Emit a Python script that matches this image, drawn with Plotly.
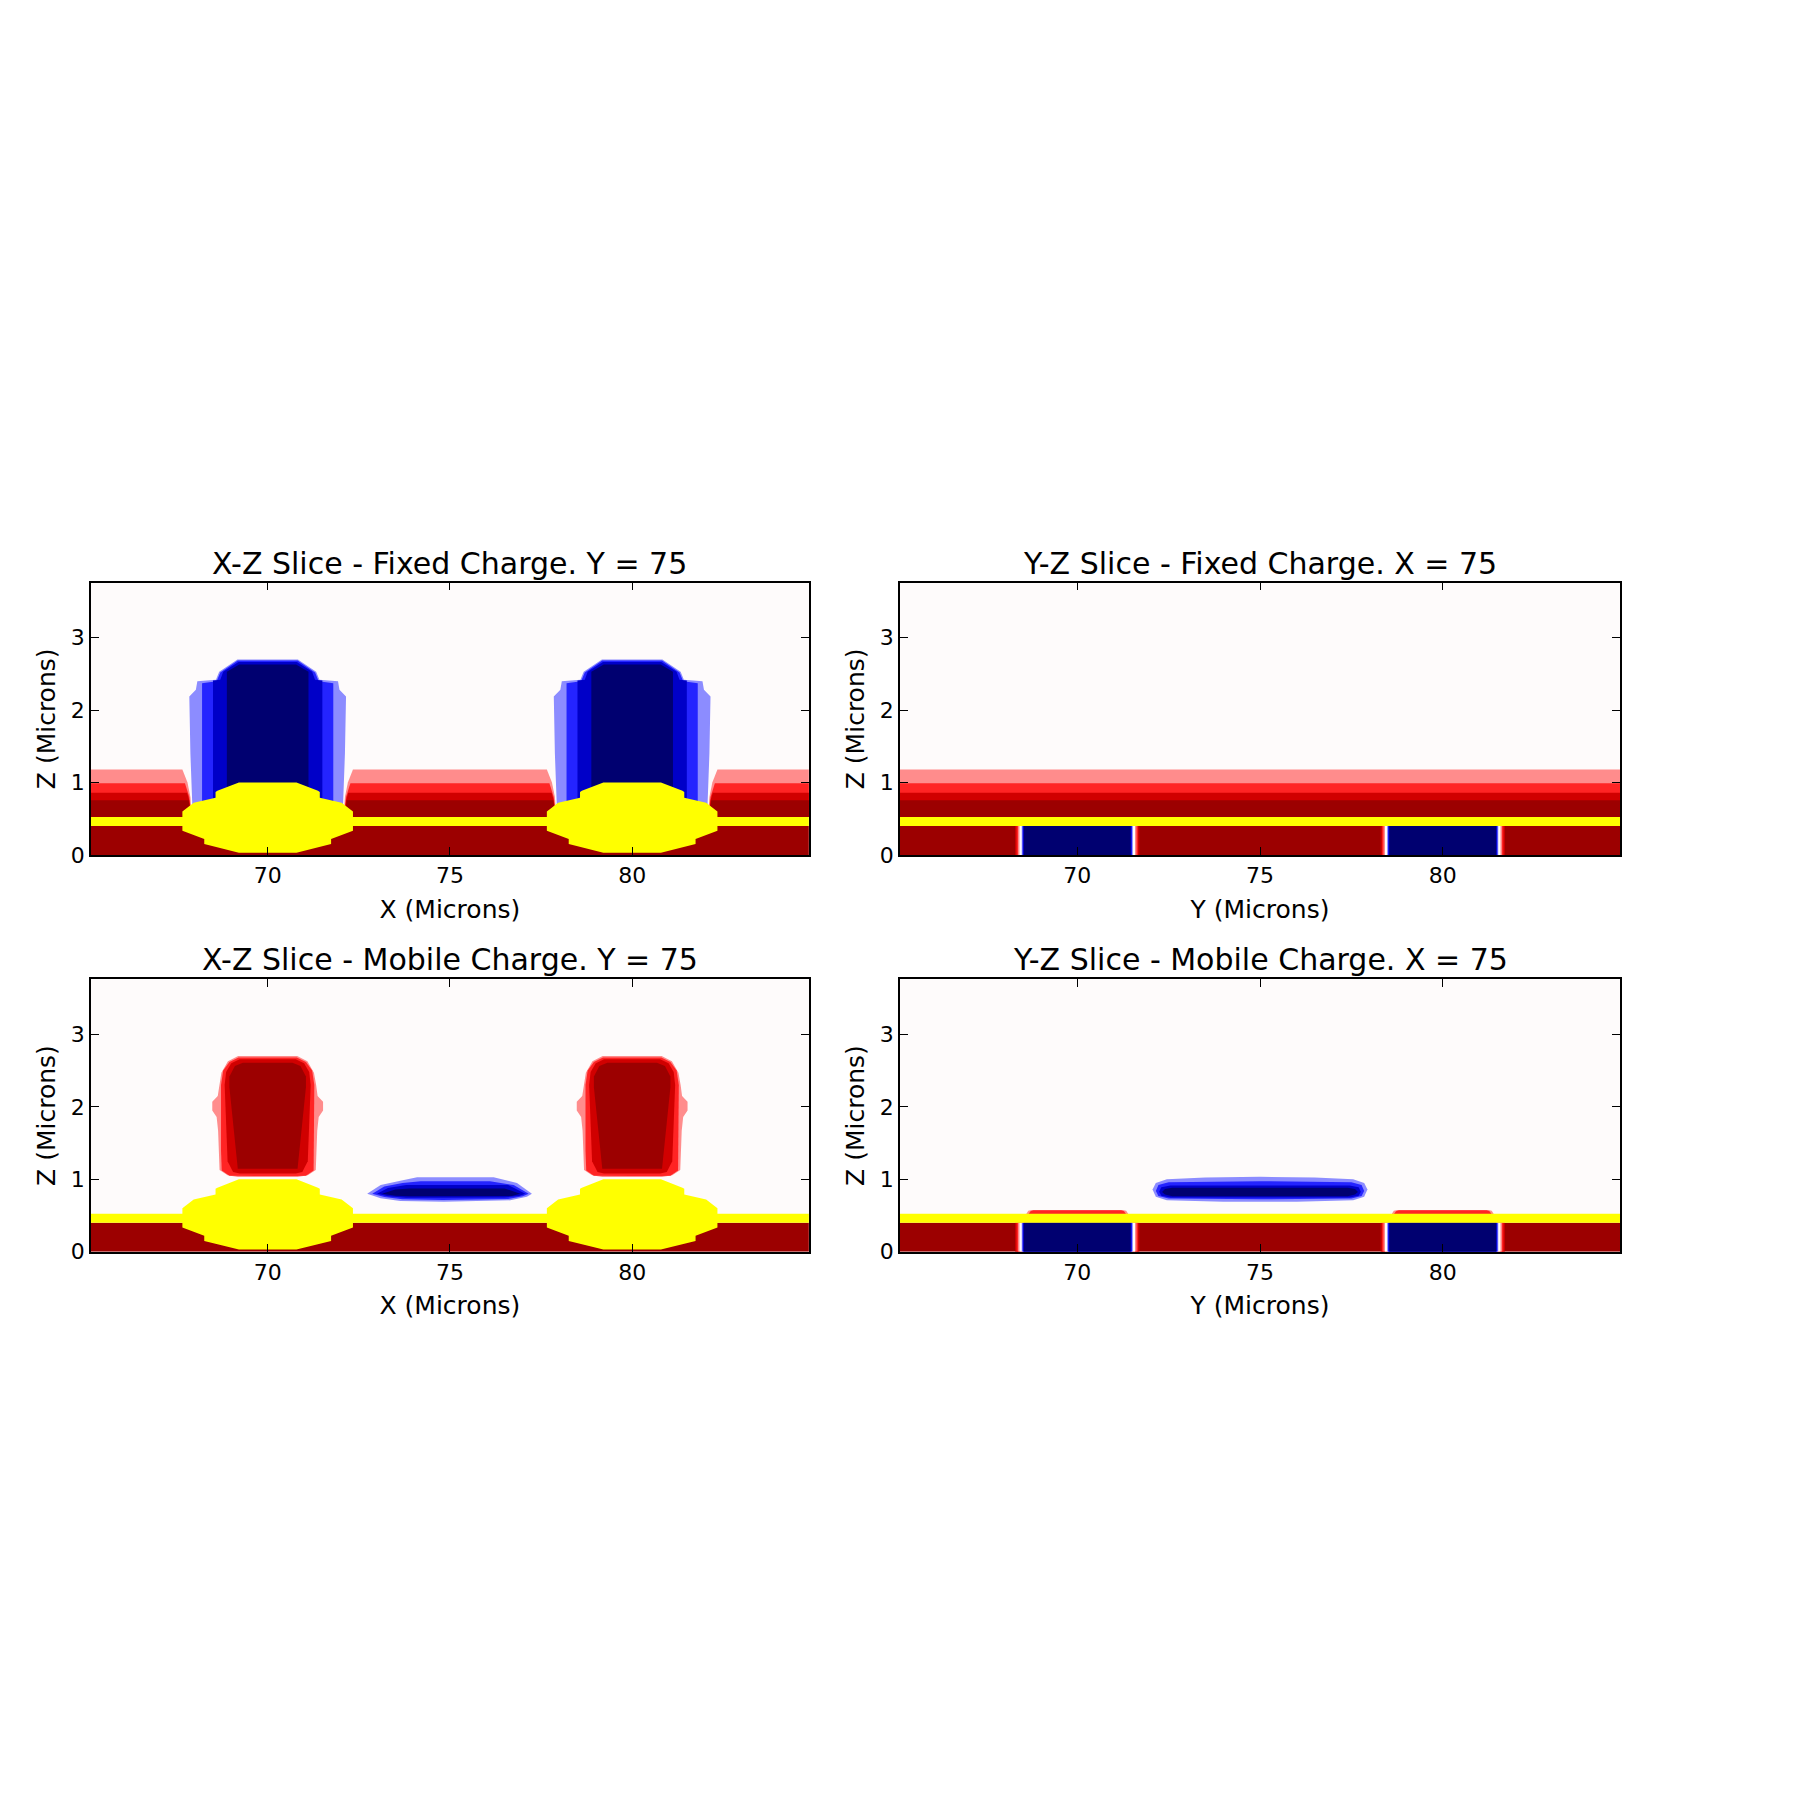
import plotly.graph_objects as go

# ---------------- data ----------------
X_RANGE = [65.15, 84.85]
Z_RANGE = [0.0, 3.76]
X_TICKS = [70, 75, 80]
Z_TICKS = [0, 1, 2, 3]

TITLES = ["X-Z Slice - Fixed Charge. Y = 75", "Y-Z Slice - Fixed Charge. X = 75",
          "X-Z Slice - Mobile Charge. Y = 75", "Y-Z Slice - Mobile Charge. X = 75"]
X_LABELS = ["X (Microns)", "Y (Microns)", "X (Microns)", "Y (Microns)"]
Z_LABEL = "Z (Microns)"

PILLAR_CENTERS = [70.0, 80.0]
SUBSTRATE_TOP = 0.40
OXIDE_TOP = 0.525

# colours (contour levels)
NAVY, MIDBLUE, BLUE, LIGHTBLUE = "#000070", "#0000c8", "#2424ff", "#8c8cff"
WHITE = "#fefbfb"
LIGHTRED, RED, MIDRED, DARKRED = "#ff8c8c", "#ff2424", "#d00000", "#9c0000"
YELLOW = "#ffff00"

# fixed charge band above oxide (level tops)
BAND_COLORS = [LIGHTRED, RED, MIDRED, DARKRED]
BAND_TOPS = [1.18, 0.99, 0.86, 0.755]
# half widths of gap around pillars for each band level (z profile, half width)
BAND_GAP_Z = [[0.525, 0.80, 1.00, 1.18], [0.525, 0.80, 0.99], [0.525, 0.75, 0.86], [0.525, 0.68, 0.755]]
BAND_GAP_HW = [[2.08, 2.12, 2.20, 2.34], [2.09, 2.15, 2.27], [2.10, 2.15, 2.21], [2.11, 2.14, 2.17]]

# fixed charge pillars (right half: dx, z), outer level first
PILLAR_COLORS = [LIGHTBLUE, BLUE, MIDBLUE, NAVY]
PILLAR_DX = [[0, 0.83, 1.33, 1.42, 1.93, 1.97, 2.15, 2.12, 2.06, 0],
             [0, 0.82, 1.30, 1.40, 1.80, 1.80, 0],
             [0, 0.80, 1.22, 1.30, 1.50, 1.50, 0],
             [0, 0.78, 1.12, 1.12, 0]]
PILLAR_Z = [[2.70, 2.70, 2.53, 2.42, 2.40, 2.28, 2.19, 1.40, 0.58, 0.58],
            [2.685, 2.685, 2.52, 2.40, 2.37, 0.58, 0.58],
            [2.665, 2.665, 2.53, 2.42, 2.41, 0.58, 0.58],
            [2.63, 2.63, 2.53, 0.58, 0.58]]

# oxide (yellow) octagons, right half
OXIDE_DX = [0, 0.79, 1.38, 1.43, 1.43, 2.03, 2.34, 2.34, 1.74, 1.74, 0.79, 0]
OXIDE_Z = [1.0, 1.0, 0.885, 0.87, 0.79, 0.72, 0.60, 0.335, 0.22, 0.15, 0.03, 0.03]

# mobile charge blobs above pillars (right half)
BLOB_COLORS = [LIGHTRED, RED, MIDRED, DARKRED]
BLOB_DX = [[0, 0.81, 1.09, 1.27, 1.33, 1.37, 1.52, 1.52, 1.40, 1.36, 1.32, 1.10, 0.82, 0],
           [0, 0.80, 1.05, 1.22, 1.28, 1.28, 1.26, 1.05, 0.80, 0],
           [0, 0.77, 1.00, 1.14, 1.18, 1.10, 0.95, 0.77, 0],
           [0, 0.68, 0.90, 1.05, 1.05, 0.82, 0]]
BLOB_Z = [[2.70, 2.70, 2.63, 2.47, 2.30, 2.15, 2.07, 1.95, 1.86, 1.67, 1.13, 1.056, 1.033, 1.033],
          [2.68, 2.68, 2.62, 2.50, 2.30, 1.40, 1.12, 1.05, 1.045, 1.045],
          [2.655, 2.655, 2.60, 2.48, 2.30, 1.25, 1.10, 1.08, 1.08],
          [2.61, 2.61, 2.565, 2.42, 2.27, 1.147, 1.147]]

# mobile electron cloud, X-Z slice
XZ_CLOUD_COLORS = [LIGHTBLUE, BLUE, MIDBLUE, NAVY]
XZ_CLOUD_X = [[72.73, 73.1, 73.64, 74.1, 76.2, 76.84, 77.25, 77.11, 76.66, 74.83, 73.64, 73.1],
              [72.87, 73.2, 73.7, 74.2, 76.1, 76.75, 77.16, 77.0, 76.6, 74.8, 73.7, 73.2],
              [73.0, 73.3, 73.8, 76.6, 77.07, 76.9, 76.5, 73.8, 73.3],
              [73.14, 73.5, 73.9, 76.5, 76.93, 76.7, 73.9, 73.5]]
XZ_CLOUD_Z = [[0.80, 0.92, 0.98, 1.03, 1.03, 0.95, 0.80, 0.76, 0.71, 0.69, 0.70, 0.74],
              [0.80, 0.90, 0.95, 0.975, 0.975, 0.92, 0.80, 0.765, 0.73, 0.715, 0.725, 0.755],
              [0.80, 0.88, 0.92, 0.92, 0.80, 0.77, 0.75, 0.745, 0.765],
              [0.80, 0.86, 0.875, 0.875, 0.80, 0.77, 0.765, 0.775]]

# mobile electron cloud, Y-Z slice
YZ_CLOUD_Y = [[72.06, 72.15, 72.45, 73.5, 75.0, 76.5, 77.55, 77.85, 77.94, 77.85, 77.55, 76.0, 74.0, 72.45, 72.15],
              [72.15, 72.22, 72.5, 75.0, 77.5, 77.78, 77.85, 77.78, 77.5, 75.0, 72.5, 72.22],
              [72.24, 72.3, 72.55, 77.45, 77.7, 77.76, 77.7, 77.45, 72.55, 72.3],
              [72.32, 72.4, 72.6, 77.4, 77.6, 77.68, 77.6, 77.4, 72.6, 72.4]]
YZ_CLOUD_Z = [[0.86, 0.95, 1.0, 1.025, 1.035, 1.025, 1.0, 0.95, 0.86, 0.76, 0.71, 0.69, 0.69, 0.71, 0.76],
              [0.84, 0.92, 0.96, 0.975, 0.96, 0.92, 0.84, 0.77, 0.735, 0.725, 0.735, 0.77],
              [0.83, 0.89, 0.915, 0.915, 0.89, 0.83, 0.775, 0.75, 0.75, 0.775],
              [0.825, 0.865, 0.885, 0.885, 0.865, 0.825, 0.79, 0.765, 0.765, 0.79]]

# channel stops in substrate (Y-Z): stripe half widths, outermost first
STRIPE_COLORS = [MIDRED, RED, LIGHTRED, WHITE, LIGHTBLUE, BLUE, MIDBLUE, NAVY]
STRIPE_HW = [1.70, 1.66, 1.62, 1.58, 1.52, 1.50, 1.48, 1.46]

# small hole bumps above oxide (Y-Z mobile), right half
BUMP_COLORS = [LIGHTRED, RED]
BUMP_DX = [[0, 1.25, 1.34, 1.42, 0], [0, 1.20, 1.28, 1.36, 0]]
BUMP_Z = [[0.578, 0.578, 0.565, 0.50, 0.50], [0.572, 0.572, 0.56, 0.50, 0.50]]

# ---------------- figure ----------------
fig = go.Figure()
FONT = "DejaVu Sans"
X_DOMAINS = [[0.0505, 0.4494], [0.5, 0.9], [0.0505, 0.4494], [0.5, 0.9]]
Y_DOMAINS = [[0.5216, 0.6739], [0.2995, 0.4520], [0.2995, 0.4520]]
Y_DOMAINS = [Y_DOMAINS[0], Y_DOMAINS[0], Y_DOMAINS[1], Y_DOMAINS[2]]


def poly(xs, zs, color, k):
    suffix = "" if k == 0 else str(k + 1)
    fig.add_trace(go.Scatter(x=list(xs) + [xs[0]], y=list(zs) + [zs[0]], mode="lines",
                             fill="toself", fillcolor=color, line=dict(width=0, color=color),
                             hoverinfo="skip", showlegend=False,
                             xaxis="x" + suffix, yaxis="y" + suffix))


def rect(x0, x1, z0, z1, color, k):
    poly([x0, x1, x1, x0], [z0, z0, z1, z1], color, k)


def mirrored(center, hdx, hz):
    xs = [center - d for d in reversed(hdx)] + [center + d for d in hdx]
    zs = list(reversed(hz)) + list(hz)
    return xs, zs


def band_with_gaps(zprof, hwprof, color, k):
    bounds = [X_RANGE[0]] + PILLAR_CENTERS + [X_RANGE[1]]
    zb, zt = zprof[0], zprof[-1]
    for i in range(len(bounds) - 1):
        a, b = bounds[i], bounds[i + 1]
        xs, zs = [], []
        if i == 0:
            xs += [a, a]; zs += [zb, zt]
        else:
            xs += [a + h for h in hwprof]; zs += list(zprof)
        if i == len(bounds) - 2:
            xs += [b, b]; zs += [zt, zb]
        else:
            xs += [b - h for h in reversed(hwprof)]; zs += list(reversed(zprof))
        poly(xs, zs, color, k)


def substrate_and_oxide(k, octagons, stripes):
    rect(X_RANGE[0], X_RANGE[1], 0, SUBSTRATE_TOP, DARKRED, k)
    if stripes:
        for c in PILLAR_CENTERS:
            for col, hw in zip(STRIPE_COLORS, STRIPE_HW):
                rect(c - hw, c + hw, 0, SUBSTRATE_TOP, col, k)
    rect(X_RANGE[0], X_RANGE[1], SUBSTRATE_TOP, OXIDE_TOP, YELLOW, k)
    if octagons:
        for c in PILLAR_CENTERS:
            xs, zs = mirrored(c, OXIDE_DX, OXIDE_Z)
            poly(xs, zs, YELLOW, k)


# panel 1: X-Z fixed
for col, zp, hp in zip(BAND_COLORS, BAND_GAP_Z, BAND_GAP_HW):
    band_with_gaps(zp, hp, col, 0)
for c in PILLAR_CENTERS:
    for col, dx, z in zip(PILLAR_COLORS, PILLAR_DX, PILLAR_Z):
        xs, zs = mirrored(c, dx, z)
        poly(xs, zs, col, 0)
substrate_and_oxide(0, True, False)

# panel 2: Y-Z fixed
for col, top in zip(BAND_COLORS, BAND_TOPS):
    rect(X_RANGE[0], X_RANGE[1], OXIDE_TOP, top, col, 1)
substrate_and_oxide(1, False, True)

# panel 3: X-Z mobile
for c in PILLAR_CENTERS:
    for col, dx, z in zip(BLOB_COLORS, BLOB_DX, BLOB_Z):
        xs, zs = mirrored(c, dx, z)
        poly(xs, zs, col, 2)
for col, xs, zs in zip(XZ_CLOUD_COLORS, XZ_CLOUD_X, XZ_CLOUD_Z):
    poly(xs, zs, col, 2)
substrate_and_oxide(2, True, False)

# panel 4: Y-Z mobile
for c in PILLAR_CENTERS:
    for col, dx, z in zip(BUMP_COLORS, BUMP_DX, BUMP_Z):
        xs, zs = mirrored(c, dx, z)
        poly(xs, zs, col, 3)
for col, xs, zs in zip(XZ_CLOUD_COLORS, YZ_CLOUD_Y, YZ_CLOUD_Z):
    poly(xs, zs, col, 3)
substrate_and_oxide(3, False, True)

axis_common = dict(showline=True, linecolor="black", linewidth=1.5, mirror="ticks",
                   ticks="inside", ticklen=8, tickwidth=1.2, tickcolor="black",
                   showgrid=False, zeroline=False,
                   tickfont=dict(family=FONT, size=22, color="black"))
layout = dict(width=1800, height=1800, margin=dict(l=0, r=0, t=0, b=0),
              paper_bgcolor="white", plot_bgcolor=WHITE, showlegend=False,
              font=dict(family=FONT, color="black"))
annotations = []
for k in range(4):
    s = "" if k == 0 else str(k + 1)
    layout["xaxis" + s] = dict(axis_common, domain=X_DOMAINS[k], range=X_RANGE,
                               tickvals=X_TICKS, anchor="y" + s,
                               title=dict(text=X_LABELS[k], font=dict(family=FONT, size=25), standoff=13))
    layout["yaxis" + s] = dict(axis_common, domain=Y_DOMAINS[k], range=Z_RANGE,
                               tickvals=Z_TICKS, anchor="x" + s,
                               title=dict(text=Z_LABEL, font=dict(family=FONT, size=25), standoff=8))
    annotations.append(dict(text=TITLES[k], xref="paper", yref="paper",
                            x=sum(X_DOMAINS[k]) / 2, y=Y_DOMAINS[k][1], xanchor="center",
                            yanchor="bottom", yshift=0, showarrow=False,
                            font=dict(family=FONT, size=30, color="black")))
layout["annotations"] = annotations
fig.update_layout(**layout)
fig.write_html("out.html")
